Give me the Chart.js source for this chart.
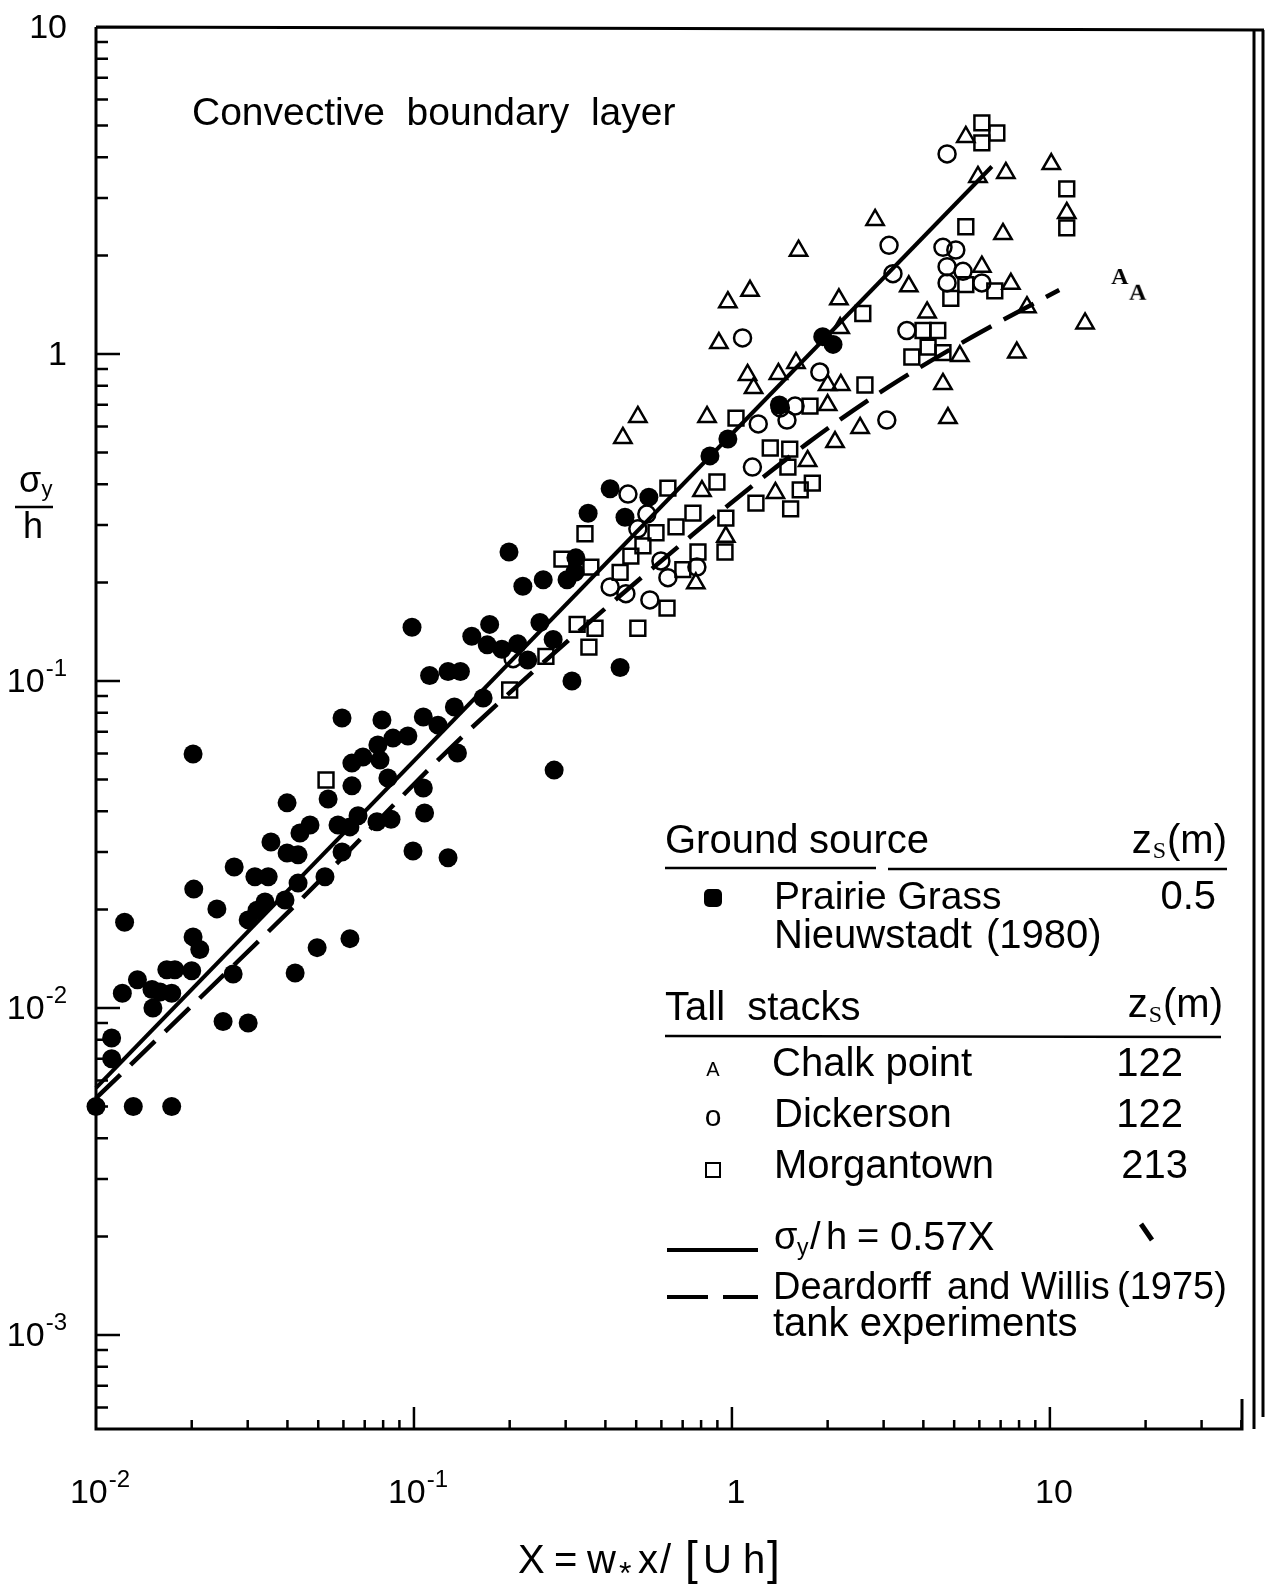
<!DOCTYPE html>
<html lang="en">
  <head>
    <meta charset="UTF-8" />
    <title>Convective boundary layer</title>
    <script src="https://cdn.jsdelivr.net/npm/chart.js"></script>
    <style>
      body { margin: 0; background: #fff; }
      canvas { display: block; }
    </style>
  </head>
  <body>
    <canvas id="sigmaChart" width="1268" height="1585"></canvas>
    <script>
      // Prairie Grass / Nieuwstadt (1980), ground source
      const prairieX = [0.01, 0.0131, 0.0173, 0.0112, 0.0112, 0.0121, 0.0135, 0.0151, 0.0150, 0.0159,
        0.0173, 0.0167, 0.0177, 0.0200, 0.0202, 0.0212, 0.0123, 0.0203, 0.0240, 0.0272,
        0.0316, 0.0348, 0.0301, 0.0321, 0.0340, 0.0393, 0.0432, 0.0525, 0.0270, 0.0251,
        0.0301, 0.0423, 0.0496, 0.0629, 0.0399, 0.0432, 0.0594, 0.0202, 0.0986, 0.152,
        0.112, 0.128, 0.140, 0.0594, 0.0793, 0.107, 0.119, 0.134, 0.0638, 0.0691,
        0.0770, 0.0859, 0.0957, 0.0782, 0.0638, 0.0828, 0.0537, 0.0399, 0.107, 0.137,
        0.0471, 0.0438, 0.0355, 0.0577, 0.0629, 0.0667, 0.0765, 0.0847, 0.108, 0.0993,
        0.128, 0.414, 0.548, 0.353, 0.461, 0.199, 0.323, 0.321, 0.303, 0.220,
        0.255, 0.173, 0.249, 0.170, 0.189, 0.212, 0.274, 0.228, 0.445, 0.314,
        0.165, 1.93, 2.08, 1.41, 0.971, 0.853, 0.276];
      const prairieY = [0.0050, 0.0050, 0.0050, 0.0070, 0.0081, 0.0111, 0.0122, 0.0100, 0.0114, 0.0112,
        0.0111, 0.0131, 0.0131, 0.0130, 0.0165, 0.0151, 0.0183, 0.0231, 0.0201, 0.0270,
        0.0252, 0.0252, 0.0186, 0.0199, 0.0211, 0.0214, 0.0241, 0.0252, 0.0127, 0.0091,
        0.0090, 0.0128, 0.0153, 0.0163, 0.0298, 0.0294, 0.0300, 0.0598, 0.146, 0.137,
        0.104, 0.107, 0.107, 0.0771, 0.0760, 0.0776, 0.0733, 0.0833, 0.0561, 0.0586,
        0.0637, 0.0669, 0.0679, 0.0573, 0.0478, 0.0505, 0.0436, 0.0424, 0.0471, 0.0602,
        0.0363, 0.0343, 0.0322, 0.0363, 0.0358, 0.0387, 0.0371, 0.0378, 0.0395, 0.0302,
        0.0288, 0.387, 0.365, 0.326, 0.317, 0.248, 0.238, 0.215, 0.204, 0.195,
        0.204, 0.149, 0.151, 0.129, 0.125, 0.130, 0.134, 0.116, 0.110, 0.100,
        0.0887, 1.13, 1.07, 0.698, 0.550, 0.488, 0.0534];

      // Tall stacks
      const chalkX = [0.454, 1.14, 0.971, 2.17, 0.910, 1.12, 1.17, 1.40, 1.59, 2.00,
        2.20, 2.00, 0.506, 0.835, 2.11, 2.53, 1.73, 1.37, 0.805, 0.957,
        2.19, 5.44, 5.94, 7.27, 10.1, 11.3, 7.12, 2.82, 6.11, 7.54,
        3.60, 4.11, 8.47, 12.9, 5.21, 7.87, 4.61, 4.78, 1.62, 0.770];
      const chalkY = [0.554, 1.56, 1.44, 1.47, 1.08, 0.863, 0.787, 0.869, 0.939, 0.804,
        0.804, 0.698, 0.642, 0.642, 0.538, 0.594, 0.471, 0.376, 0.381, 0.276,
        1.20, 4.61, 3.48, 3.58, 3.81, 2.70, 2.33, 2.57, 1.85, 1.64,
        1.61, 1.34, 1.39, 1.24, 0.986, 1.01, 0.810, 0.637, 2.07, 0.199];
      // two Chalk point runs printed as letters
      const chalkLetterX = [16.6, 18.9];
      const chalkLetterY = [1.72, 1.54];

      const dickersonX = [0.471, 0.540, 0.506, 0.205, 0.414, 0.464, 0.598, 0.629, 0.552, 0.776,
        1.08, 1.89, 1.21, 1.42, 1.58, 1.49, 3.07, 1.16, 4.75, 3.12,
        4.61, 5.06, 3.21, 4.75, 5.33, 4.75, 6.11, 3.55];
      const dickersonY = [0.373, 0.324, 0.292, 0.117, 0.194, 0.185, 0.233, 0.207, 0.177, 0.223,
        1.12, 0.881, 0.611, 0.684, 0.693, 0.628, 0.628, 0.451, 4.09, 2.15,
        2.12, 2.08, 1.76, 1.85, 1.79, 1.65, 1.65, 1.18];

      const morgantownX = [0.0529, 0.629, 0.345, 0.292, 0.360, 0.577, 0.667, 0.754, 0.525, 0.481,
        0.445, 0.701, 0.782, 0.951, 0.625, 0.326, 0.371, 0.506, 0.355, 0.260,
        0.200, 2.58, 2.62, 1.76, 1.03, 1.32, 1.52, 1.50, 0.897, 0.957,
        1.19, 1.64, 1.79, 1.53, 6.11, 6.81, 6.11, 11.3, 11.3, 5.44,
        5.44, 6.71, 4.88, 3.99, 4.44, 4.14, 3.68, 4.61];
      const morgantownY = [0.0498, 0.389, 0.282, 0.236, 0.223, 0.284, 0.296, 0.326, 0.259, 0.241,
        0.215, 0.219, 0.248, 0.248, 0.167, 0.149, 0.145, 0.145, 0.127, 0.119,
        0.0939, 1.33, 0.804, 0.693, 0.637, 0.516, 0.512, 0.451, 0.406, 0.315,
        0.350, 0.384, 0.403, 0.336, 5.09, 4.74, 4.42, 3.20, 2.43, 2.45,
        1.63, 1.56, 1.48, 1.18, 1.18, 1.05, 0.979, 1.01];

      // sigma_y / h = 0.57 X
      const fitSlope = 0.57;
      const fitX = [0.01, 6.57];

      // Deardorff and Willis (1975) tank experiments
      const tankX = [0.01, 0.0429, 0.147, 0.748, 1.73, 3.10, 5.69, 10.7];
      const tankY = [0.0053, 0.0209, 0.0698, 0.279, 0.534, 0.792, 1.127, 1.57];

      // axis labels: [mantissa, exponent]
      const xTickValues = [0.01, 0.1, 1, 10];
      const xTickLabels = [["10", "-2"], ["10", "-1"], ["1", ""], ["10", ""]];
      const yTickValues = [10, 1, 0.1, 0.01, 0.001];
      const yTickLabels = [["10", ""], ["1", ""], ["10", "-1"], ["10", "-2"], ["10", "-3"]];

      const SANS = '"Liberation Sans", Arial, sans-serif';

      const pairs = (xs, ys) => xs.map((x, i) => ({ x: x, y: ys[i] }));

      function letterMark(ch) {
        const c = document.createElement("canvas");
        c.width = 26;
        c.height = 26;
        const g = c.getContext("2d");
        g.font = 'bold 24px "Liberation Serif", serif';
        g.textAlign = "center";
        g.textBaseline = "middle";
        g.fillStyle = "#000";
        g.fillText(ch, 13, 14);
        return c;
      }

      // number with a raised exponent, left edge at x
      function drawPow(ctx, base, exp, x, y, size) {
        ctx.font = size + "px " + SANS;
        ctx.textAlign = "left";
        ctx.textBaseline = "middle";
        ctx.fillText(base, x, y);
        const w = ctx.measureText(base).width;
        if (exp) {
          ctx.font = Math.round(size * 0.72) + "px " + SANS;
          ctx.fillText(exp, x + w + 1, y - size * 0.4);
        }
      }
      function powWidth(ctx, base, exp, size) {
        ctx.font = size + "px " + SANS;
        let w = ctx.measureText(base).width;
        if (exp) {
          ctx.font = Math.round(size * 0.72) + "px " + SANS;
          w += ctx.measureText(exp).width + 1;
        }
        return w;
      }

      function text(ctx, s, x, y, size, align) {
        ctx.font = size + "px " + SANS;
        ctx.textAlign = align || "left";
        ctx.textBaseline = "middle";
        ctx.fillText(s, x, y);
        return ctx.measureText(s).width;
      }

      // z_s(m) header, right edge at x
      function zsHeader(ctx, xRight, y) {
        ctx.font = "40px " + SANS;
        const wz = ctx.measureText("z").width;
        const wm = ctx.measureText("(m)").width;
        ctx.font = '24px "Liberation Serif", serif';
        const ws = ctx.measureText("S").width;
        let x = xRight - wm - ws - wz - 2;
        text(ctx, "z", x, y, 40);
        ctx.font = '24px "Liberation Serif", serif';
        ctx.textAlign = "left";
        ctx.fillText("S", x + wz + 1, y + 10);
        text(ctx, "(m)", x + wz + ws + 2, y, 40);
      }

      const decorations = {
        id: "decorations",
        beforeDatasetsDraw(chart) {
          const { ctx, chartArea: a, scales } = chart;
          const xs = scales.x;
          const ys = scales.y;
          ctx.save();
          ctx.strokeStyle = "#000";
          ctx.lineCap = "butt";

          // frame: left axis, bottom axis, top rule
          ctx.lineWidth = 3;
          ctx.beginPath();
          ctx.moveTo(a.left, a.top);
          ctx.lineTo(a.left, a.bottom);
          ctx.lineTo(a.right, a.bottom);
          ctx.lineTo(a.right, a.bottom - 30);
          ctx.moveTo(a.left, a.top);
          ctx.lineTo(a.right + 22, a.top + 3);
          ctx.stroke();

          // double rule on the right
          ctx.lineWidth = 3;
          ctx.beginPath();
          ctx.moveTo(a.right + 12, a.top + 4);
          ctx.lineTo(a.right + 12, a.bottom);
          ctx.moveTo(a.right + 21, a.top + 3);
          ctx.lineTo(a.right + 21, a.bottom - 12);
          ctx.stroke();

          // inward tick marks
          ctx.lineWidth = 2.5;
          ctx.beginPath();
          for (let d = -2; d <= 1; d++) {
            for (let m = 1; m <= 9; m++) {
              const v = m * Math.pow(10, d);
              if (v <= xs.min || v > xs.max) continue;
              const px = xs.getPixelForValue(v);
              const len = m === 1 ? 22 : 9;
              ctx.moveTo(px, a.bottom);
              ctx.lineTo(px, a.bottom - len);
            }
          }
          for (let d = -4; d <= 0; d++) {
            for (let m = 1; m <= 9; m++) {
              const v = m * Math.pow(10, d);
              if (v < ys.min || v >= ys.max) continue;
              const py = ys.getPixelForValue(v);
              const len = m === 1 ? 24 : 12;
              ctx.moveTo(a.left, py);
              ctx.lineTo(a.left + len, py);
            }
          }
          ctx.stroke();
          ctx.restore();
        },
        afterDraw(chart) {
          const { ctx, chartArea: a, scales } = chart;
          const xs = scales.x;
          const ys = scales.y;
          ctx.save();
          ctx.fillStyle = "#000";
          ctx.strokeStyle = "#000";

          // y tick labels, right aligned
          yTickValues.forEach((v, i) => {
            const [b, e] = yTickLabels[i];
            const py = ys.getPixelForValue(v);
            const w = powWidth(ctx, b, e, 34);
            drawPow(ctx, b, e, 67 - w, py + 2, 34);
          });
          // x tick labels, centred under the ticks
          xTickValues.forEach((v, i) => {
            const [b, e] = xTickLabels[i];
            const px = xs.getPixelForValue(v);
            const w = powWidth(ctx, b, e, 34);
            drawPow(ctx, b, e, px - w / 2 + 4, a.bottom + 65, 34);
          });

          // y axis title: sigma_y over h
          text(ctx, "σ", 30, 482, 36, "center");
          text(ctx, "y", 47, 490, 22, "center");
          ctx.lineWidth = 2.5;
          ctx.beginPath();
          ctx.moveTo(15, 507);
          ctx.lineTo(53, 507);
          ctx.stroke();
          text(ctx, "h", 33, 528, 36, "center");

          // x axis title: X = w* x/[U h], pieces set with the original spacing
          const ty = 1562;
          text(ctx, "X", 518, ty, 40);
          text(ctx, "=", 554, ty, 40);
          text(ctx, "w", 587, ty, 40);
          text(ctx, "*", 619, ty + 13, 32);
          text(ctx, "x", 638, ty, 40);
          text(ctx, "/", 660, ty, 40);
          text(ctx, "[", 685, ty - 1, 46);
          text(ctx, "U", 703, ty, 40);
          text(ctx, "h", 743, ty, 40);
          text(ctx, "]", 767, ty - 1, 46);

          // panel title
          text(ctx, "Convective  boundary  layer", 192, 114, 39);

          // legend: ground source
          text(ctx, "Ground", 665, 842, 40);
          text(ctx, "source", 809, 842, 40);
          zsHeader(ctx, 1227, 842);
          ctx.lineWidth = 2.5;
          ctx.beginPath();
          ctx.moveTo(665, 868);
          ctx.lineTo(876, 868);
          ctx.moveTo(888, 869);
          ctx.lineTo(1227, 869);
          ctx.stroke();
          ctx.beginPath();
          ctx.roundRect(704, 889, 18, 18, 5);
          ctx.fill();
          text(ctx, "Prairie Grass", 774, 898, 39);
          text(ctx, "0.5", 1216, 898, 40, "right");
          text(ctx, "Nieuwstadt", 774, 937, 40);
          text(ctx, "(1980)", 986, 937, 40);

          // legend: tall stacks
          text(ctx, "Tall  stacks", 665, 1009, 40);
          zsHeader(ctx, 1223, 1006);
          ctx.beginPath();
          ctx.moveTo(665, 1036);
          ctx.lineTo(1221, 1037);
          ctx.stroke();
          text(ctx, "A", 713, 1070, 20, "center");
          text(ctx, "Chalk point", 772, 1065, 40);
          text(ctx, "122", 1183, 1065, 40, "right");
          text(ctx, "o", 713, 1118, 30, "center");
          text(ctx, "Dickerson", 774, 1116, 40);
          text(ctx, "122", 1183, 1116, 40, "right");
          ctx.lineWidth = 2;
          ctx.strokeRect(706, 1163, 14, 14);
          text(ctx, "Morgantown", 774, 1167, 40);
          text(ctx, "213", 1188, 1167, 40, "right");

          // legend: curves
          ctx.lineWidth = 4;
          ctx.beginPath();
          ctx.moveTo(667, 1250);
          ctx.lineTo(758, 1250);
          ctx.moveTo(667, 1297);
          ctx.lineTo(708, 1297);
          ctx.moveTo(723, 1297);
          ctx.lineTo(758, 1297);
          ctx.stroke();
          text(ctx, "σ", 774, 1239, 38);
          text(ctx, "y", 797, 1249, 23);
          text(ctx, "/", 810, 1239, 38);
          text(ctx, "h", 826, 1239, 38);
          text(ctx, "=", 857, 1239, 38);
          text(ctx, "0.57X", 890, 1239, 40);
          ctx.lineWidth = 5;
          ctx.beginPath();
          ctx.moveTo(1141, 1224);
          ctx.lineTo(1152, 1240);
          ctx.stroke();
          text(ctx, "Deardorff", 773, 1289, 38);
          text(ctx, "and", 947, 1289, 38);
          text(ctx, "Willis", 1021, 1289, 38);
          text(ctx, "(1975)", 1117, 1289, 38);
          text(ctx, "tank experiments", 773, 1325, 40);

          ctx.restore();
        }
      };

      new Chart(document.getElementById("sigmaChart"), {
        type: "scatter",
        data: {
          datasets: [
            {
              label: "σy/h = 0.57X",
              data: fitX.map((v) => ({ x: v, y: fitSlope * v })),
              showLine: true,
              borderColor: "#000",
              borderWidth: 4,
              pointRadius: 0,
              clip: false
            },
            {
              label: "Deardorff and Willis (1975)",
              data: pairs(tankX, tankY),
              showLine: true,
              borderColor: "#000",
              borderWidth: 4.5,
              borderDash: [34, 14],
              cubicInterpolationMode: "monotone",
              pointRadius: 0,
              clip: false
            },
            {
              label: "Prairie Grass",
              data: pairs(prairieX, prairieY),
              pointStyle: "circle",
              pointRadius: 9.5,
              pointBackgroundColor: "#000",
              pointBorderColor: "#000",
              pointBorderWidth: 0,
              clip: false
            },
            {
              label: "Chalk point",
              data: pairs(chalkX, chalkY),
              pointStyle: "triangle",
              pointRadius: 10,
              pointBackgroundColor: "rgba(0,0,0,0)",
              pointBorderColor: "#000",
              pointBorderWidth: 2.5,
              clip: false
            },
            {
              label: "Chalk point (letters)",
              data: pairs(chalkLetterX, chalkLetterY),
              pointStyle: letterMark("A"),
              clip: false
            },
            {
              label: "Dickerson",
              data: pairs(dickersonX, dickersonY),
              pointStyle: "circle",
              pointRadius: 8.5,
              pointBackgroundColor: "rgba(0,0,0,0)",
              pointBorderColor: "#000",
              pointBorderWidth: 2.5,
              clip: false
            },
            {
              label: "Morgantown",
              data: pairs(morgantownX, morgantownY),
              pointStyle: "rect",
              pointRadius: 10.5,
              pointBackgroundColor: "rgba(0,0,0,0)",
              pointBorderColor: "#000",
              pointBorderWidth: 2.5,
              clip: false
            }
          ]
        },
        options: {
          responsive: false,
          animation: false,
          devicePixelRatio: 1,
          layout: { padding: { left: 96, right: 26, top: 27, bottom: 156 } },
          scales: {
            x: { type: "logarithmic", min: 0.01, max: 40.2, display: false },
            y: { type: "logarithmic", min: 5.16e-4, max: 10, display: false }
          },
          plugins: {
            legend: { display: false },
            tooltip: { enabled: false }
          }
        },
        plugins: [decorations]
      });
    </script>
  </body>
</html>
